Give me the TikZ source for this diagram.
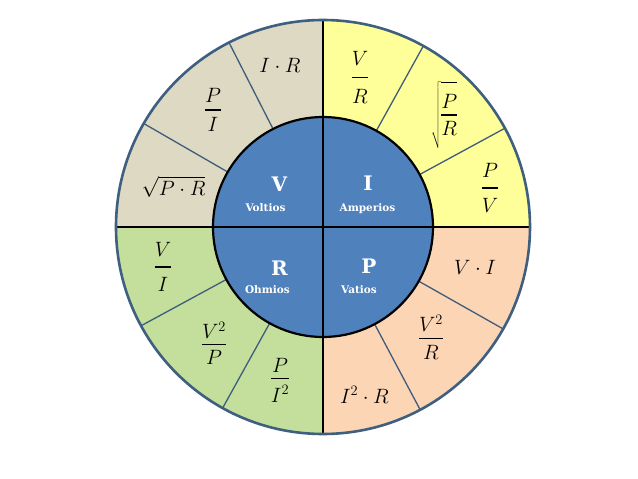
\documentclass[tikz,border=0pt]{standalone}
\usepackage{fontspec}
\newfontfamily\lblfont{DejaVu Serif}
\definecolor{beigecol}{HTML}{DDD9C3}
\definecolor{yellowcol}{HTML}{FFFF99}
\definecolor{greencol}{HTML}{C4DF9C}
\definecolor{peachcol}{HTML}{FCD5B5}
\definecolor{bluecol}{HTML}{4F81BD}
\definecolor{ringcol}{HTML}{3F5F80}
\definecolor{spokecol}{HTML}{3E5C7C}
\newcommand\fr[3][6pt]{\vcenter{\offinterlineskip\halign{\hfil$##$\hfil\cr#2\cr\noalign{\kern#1\hrule height 1.1pt\kern#1}#3\cr}}}
\begin{document}
\begin{tikzpicture}[x=1pt,y=1pt,
  ring/.style={line width=2.6pt, draw=ringcol},
  spoke/.style={line width=1.3pt, draw=spokecol},
  cross/.style={line width=2.2pt, draw=black},
  formula/.style={inner sep=0pt, font=\fontsize{21}{25}\selectfont},
  biglbl/.style={text=white, inner sep=0pt, anchor=base, font=\lblfont\bfseries\fontsize{20}{24}\selectfont},
  smalllbl/.style={text=white, inner sep=0pt, anchor=base, font=\lblfont\bfseries\fontsize{10.5}{12}\selectfont}]
\useasboundingbox (-323,-252) rectangle (315,227);
\fill[white] (-323,-252) rectangle (315,227);
% quadrants
\fill[beigecol] (0,0) -- (90:207pt) arc[start angle=90,end angle=180,radius=207pt] -- cycle;
\fill[yellowcol] (0,0) -- (0:207pt) arc[start angle=0,end angle=90,radius=207pt] -- cycle;
\fill[greencol] (0,0) -- (180:207pt) arc[start angle=180,end angle=270,radius=207pt] -- cycle;
\fill[peachcol] (0,0) -- (270:207pt) arc[start angle=270,end angle=360,radius=207pt] -- cycle;
% spokes
\foreach \a in {150,117,61,28.5,208.5,241,-29.5,-62}
  \draw[spoke] (\a:105pt) -- (\a:207pt);
% inner circle
\fill[bluecol] (0,0) circle[radius=110pt];
\draw[line width=2.2pt] (0,0) circle[radius=110pt];
\draw[cross] (-206,0) -- (206,0);
\draw[cross] (0,-206) -- (0,206);
\draw[ring] (0,0) circle[radius=207pt];
% labels
\node[biglbl] (lV) at (-43.5,35) {V};
\node[smalllbl] (lVolt) at (-57.5,15) {Voltios};
\node[biglbl] (lI) at (45,36) {I};
\node[smalllbl] (lAmp) at (44.5,15) {Amperios};
\node[biglbl] (lR) at (-43.5,-49) {R};
\node[smalllbl] (lOhm) at (-55.5,-67) {Ohmios};
\node[biglbl] (lP) at (46,-47) {P};
\node[smalllbl] (lVat) at (36,-67) {Vatios};
% formulas
\node[formula] (fIR) at (-43,162) {$I\cdot R$};
\node[formula] (fPI) at (-110,117) {$\fr[7pt]{P}{I}$};
\node[formula] (fsPR) at (-149.5,40) {$\sqrt{P\cdot R}$};
\node[formula] (fVR) at (37,149.5) {$\fr[11pt]{V}{R}$};
\node[formula] (fsPoR) at (121,112) {$\sqrt{\rule[-27pt]{0pt}{63pt}\fr[6pt]{P}{R}}$};
\node[formula] (fPV) at (167,39) {$\fr[10pt]{P}{V}$};
\node[formula] (fVI) at (-160,-40) {$\fr[10pt]{V}{I}$};
\node[formula] (fV2P) at (-109,-116) {$\fr[5pt]{V^2}{P}$};
\node[formula] (fPI2) at (-43,-153) {$\fr[6pt]{P}{I^2}$};
\node[formula] (fVdI) at (152,-40) {$V\cdot I$};
\node[formula] (fV2R) at (108,-110) {$\fr[6pt]{V^2}{R}$};
\node[formula] (fI2R) at (41.5,-168) {$I^2\cdot R$};
\end{tikzpicture}
\end{document}
